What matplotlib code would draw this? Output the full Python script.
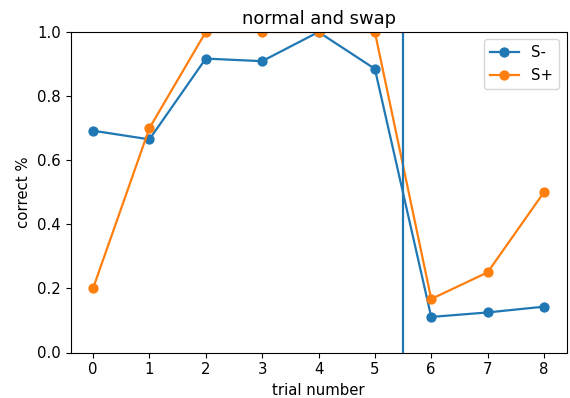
import matplotlib
matplotlib.use("Agg")
import matplotlib.pyplot as plt

trials = [0, 1, 2, 3, 4, 5, 6, 7, 8]
s_minus = [0.692, 0.665, 0.917, 0.909, 1.0, 0.885, 0.111, 0.125, 0.143]
s_plus = [0.2, 0.7, 1.0, 1.0, 1.0, 1.0, 0.167, 0.25, 0.5]
swap_point = 5.5

plt.rcParams['font.size'] = 10.7
plt.rcParams['lines.linewidth'] = 1.6
plt.rcParams['lines.markersize'] = 6.4

fig = plt.figure(figsize=(5.70, 3.98), dpi=100)
ax = fig.add_axes([70.5/570, 1-352.5/398, (566.5-70.5)/570, (352.5-32)/398])
ax.plot(trials, s_minus, marker='o', label='S-')
ax.plot(trials, s_plus, marker='o', label='S+')
ax.axvline(swap_point)
ax.set_ylim(0, 1)
ax.set_title('normal and swap')
ax.set_xlabel('trial number')
ax.set_ylabel('correct %')
ax.legend(loc='upper right')
fig.savefig('out.png', dpi=100)
